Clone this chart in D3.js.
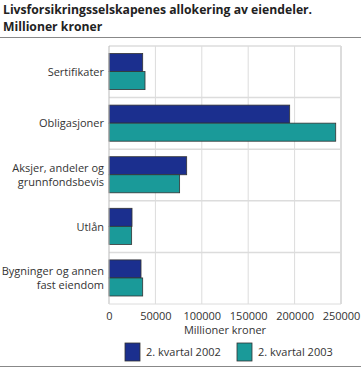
<!DOCTYPE html>
<html>
<head>
<meta charset="utf-8">
<script src="https://cdn.jsdelivr.net/npm/d3@7"></script>
<style>
  body { margin: 0; background: #fff; }
  svg { font-family: "Open Sans", sans-serif; }
</style>
</head>
<body>
<svg id="chart" width="361" height="368"></svg>
<script>
const categories = ['Sertifikater', 'Obligasjoner', 'Aksjer, andeler og|grunnfondsbevis', 'Utlån', 'Bygninger og annen|fast eiendom'];
const series = ['2. kvartal 2002', '2. kvartal 2003'];
const values2002 = [36300, 194700, 83700, 24800, 34500];
const values2003 = [38800, 244300, 76100, 24400, 36300];
const xTicks = [0, 50000, 100000, 150000, 200000, 250000];
const colors = ['#1b2f8e', '#1a9a99'];

const svg = d3.select('#chart');
const margin = {left: 109, right: 20, top: 46, bottom: 64};
const width = 361 - margin.left - margin.right;
const height = 368 - margin.top - margin.bottom;

// title
svg.append('text').attr('x', 3).attr('y', 14)
  .style('font-size', '12.2px').style('font-weight', 'bold').attr('fill', '#222')
  .text('Livsforsikringsselskapenes allokering av eiendeler.');
svg.append('text').attr('x', 3).attr('y', 31)
  .style('font-size', '12.2px').style('font-weight', 'bold').attr('fill', '#222')
  .text('Millioner kroner');
svg.append('line').attr('x1', 0).attr('x2', 361).attr('y1', 37.5).attr('y2', 37.5)
  .attr('stroke', '#888').attr('stroke-width', 1);
svg.append('line').attr('x1', 0).attr('x2', 361).attr('y1', 366.5).attr('y2', 366.5)
  .attr('stroke', '#888').attr('stroke-width', 1);

const g = svg.append('g').attr('transform', `translate(${margin.left},${margin.top})`);

const x = d3.scaleLinear().domain([0, 250000]).range([0, width]);
const y = d3.scaleBand().domain(categories).range([0, height]);
const ySub = d3.scaleBand().domain(series).range([7.5, y.bandwidth() - 8]);

// grid
g.selectAll('line.vgrid').data(xTicks.slice(1)).enter().append('line')
  .attr('class', 'vgrid')
  .attr('x1', d => x(d)).attr('x2', d => x(d))
  .attr('y1', 0).attr('y2', height)
  .attr('stroke', '#dcdcdc').attr('stroke-width', d => d === 250000 ? 2 : 1);
g.selectAll('line.hgrid').data(categories).enter().append('line')
  .attr('class', 'hgrid')
  .attr('x1', 0).attr('x2', width)
  .attr('y1', d => y(d)).attr('y2', d => y(d))
  .attr('stroke', '#dcdcdc').attr('stroke-width', 1.5);

// bars
const data = [values2002, values2003];
series.forEach((s, si) => {
  g.selectAll(`rect.s${si}`).data(categories).enter().append('rect')
    .attr('class', `s${si}`)
    .attr('x', 0)
    .attr('y', d => y(d) + ySub(s))
    .attr('width', (d, i) => x(data[si][i]))
    .attr('height', ySub.bandwidth())
    .attr('fill', colors[si])
    .attr('stroke', '#333').attr('stroke-width', 0.8);
});

// axes
g.append('line').attr('x1', 0).attr('x2', 0).attr('y1', 0).attr('y2', height)
  .attr('stroke', '#bbb');
g.append('line').attr('x1', 0).attr('x2', width).attr('y1', height).attr('y2', height)
  .attr('stroke', '#dcdcdc');

const xAxis = d3.axisBottom(x).tickValues(xTicks).tickSize(0).tickPadding(8)
  .tickFormat(d3.format('d'));
const ax = g.append('g').attr('transform', `translate(0,${height})`).call(xAxis);
ax.select('.domain').remove();
ax.selectAll('text').style('font-size', '11px').attr('fill', '#333')
  .style('font-family', '"Open Sans", sans-serif');

g.append('text').attr('x', width / 2).attr('y', height + 30)
  .attr('text-anchor', 'middle').style('font-size', '11px').attr('fill', '#333')
  .text('Millioner kroner');

// category labels
categories.forEach(c => {
  const lines = c.split('|');
  const cy = y(c) + y.bandwidth() / 2;
  const t = g.append('text').attr('text-anchor', 'end')
    .style('font-size', '11px').attr('fill', '#333');
  lines.forEach((l, i) => {
    t.append('tspan').attr('x', -5)
      .attr('y', cy + 4 + (i - (lines.length - 1) / 2) * 14)
      .text(l);
  });
});

// legend
const legendX = [125, 237];
series.forEach((s, i) => {
  svg.append('rect').attr('x', legendX[i]).attr('y', 343)
    .attr('width', 15).attr('height', 18)
    .attr('fill', colors[i]).attr('stroke', '#333').attr('stroke-width', 0.8);
  svg.append('text').attr('x', legendX[i] + 21).attr('y', 356)
    .style('font-size', '11px').attr('fill', '#333').text(s);
});
</script>
</body>
</html>
